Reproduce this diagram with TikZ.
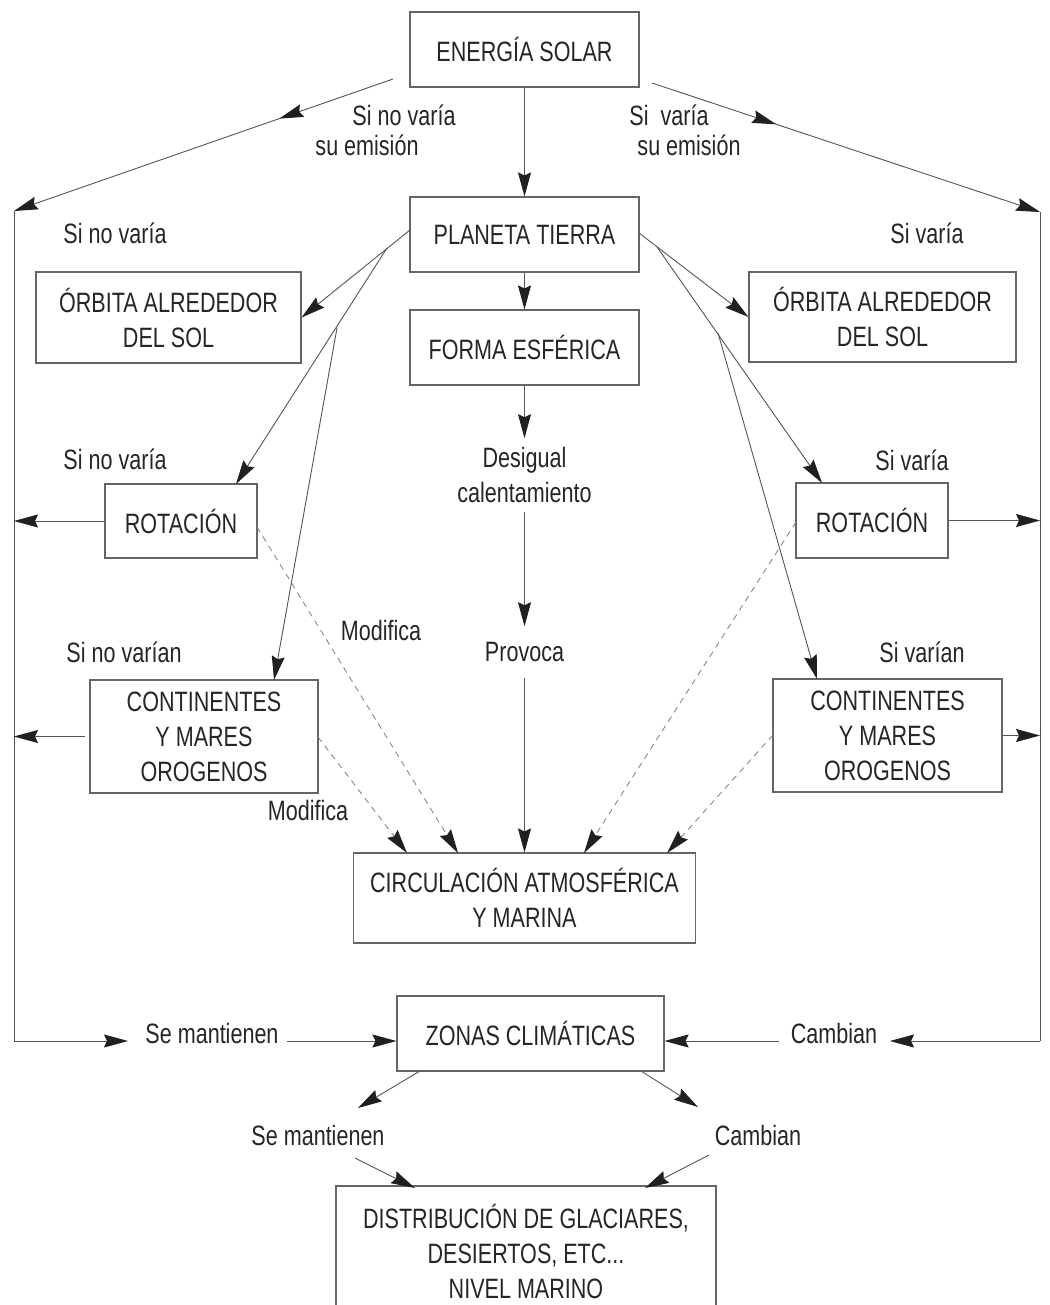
\documentclass[tikz,border=0pt]{standalone}
\usepackage{fontspec}
\setmainfont{Liberation Sans}[FakeStretch=0.77]
\usetikzlibrary{arrows.meta,decorations.markings}
\definecolor{txt}{HTML}{262626}
\definecolor{linec}{HTML}{555555}
\definecolor{boxc}{HTML}{666666}
\definecolor{tipc}{HTML}{202020}
\definecolor{dashc}{HTML}{888888}
\newcommand\dfont{\fontsize{28}{35}\selectfont}
\begin{document}
\begin{tikzpicture}[x=1pt,y=-1pt,
  every node/.style={font=\dfont, text=txt},
  box/.style={draw=boxc, line width=1.1pt, inner sep=0pt, align=center},
  lbl/.style={inner sep=0pt, outer sep=0pt, align=center},
  con/.style={draw=linec, line width=0.9pt, -{Stealth[length=24pt,width=13pt,inset=3pt,color=tipc]}},
  ln/.style={draw=linec, line width=0.9pt},
  dsh/.style={draw=dashc, line width=0.9pt, dash pattern=on 6pt off 5pt, -{Stealth[length=24pt,width=13pt,inset=3pt,color=tipc]}},
  midarr/.style={postaction={decorate}, decoration={markings, mark=at position #1 with {\arrow{Stealth[length=24pt,width=13pt,inset=3pt,color=tipc]}}}}
]
\fill[white] (0,0) rectangle (1049,1305);
\begin{scope}
\clip (0,0) rectangle (1049,1305);

% boxes
\node[box, minimum width=229, minimum height=75] (en) at (524.5,49.5) {ENERGÍA SOLAR};
\node[box, minimum width=229, minimum height=75] (pt) at (524.5,234.5) {PLANETA TIERRA};
\node[box, minimum width=229, minimum height=75] (fe) at (524.5,347.5) {FORMA ESFÉRICA};
\node[box, minimum width=265, minimum height=91] (ol) at (168.5,317.5) {ÓRBITA ALREDEDOR\\DEL SOL};
\node[box, minimum width=267, minimum height=90] (or) at (882.5,317) {ÓRBITA ALREDEDOR\\DEL SOL};
\node[box, minimum width=152, minimum height=74] (rl) at (181,521) {ROTACIÓN};
\node[box, minimum width=152, minimum height=75] (rr) at (872,520.5) {ROTACIÓN};
\node[box, minimum width=228, minimum height=113] (cl) at (204,736.5) {CONTINENTES\\Y MARES\\OROGENOS};
\node[box, minimum width=229, minimum height=113] (cr) at (887.5,735.5) {CONTINENTES\\Y MARES\\OROGENOS};
\node[box, minimum width=342, minimum height=90] (ci) at (524.5,898) {CIRCULACIÓN ATMOSFÉRICA\\Y MARINA};
\node[box, minimum width=267, minimum height=75] (zc) at (530.5,1033.5) {ZONAS CLIMÁTICAS};
\node[box, minimum width=380, minimum height=130] (di) at (526,1251) {DISTRIBUCIÓN DE GLACIARES,\\DESIERTOS, ETC...\\NIVEL MARINO};

% labels
\node[lbl] (s1a) at (404,115) {Si no varía};
\node[lbl] (s1b) at (367,145) {su emisión};
\node[lbl] (s2a) at (669,115) {Si~~varía};
\node[lbl] (s2b) at (689,145) {su emisión};
\node[lbl] (n1) at (115,233) {Si no varía};
\node[lbl] (v1) at (927,233) {Si varía};
\node[lbl] (n2) at (115,459) {Si no varía};
\node[lbl] (v2) at (912,460) {Si varía};
\node[lbl, inner ysep=9pt] (dc) at (524.5,475) {Desigual\\calentamiento};
\node[lbl, inner ysep=16pt] (pv) at (524.5,652) {Provoca};
\node[lbl] (m1) at (381,630) {Modifica};
\node[lbl] (m2) at (308,810) {Modifica};
\node[lbl] (n3) at (124,652) {Si no varían};
\node[lbl] (v3) at (922,652) {Si varían};
\node[lbl] (sm1) at (212,1033) {Se mantienen};
\node[lbl] (ca1) at (834,1033) {Cambian};
\node[lbl] (sm2) at (318,1135) {Se mantienen};
\node[lbl] (ca2) at (758,1135) {Cambian};

% coordinates
\coordinate (e1) at (393,79);
\coordinate (e2) at (652,83);
\coordinate (L1) at (14,211);
\coordinate (L2) at (14,1041);
\coordinate (R1) at (1040,212);
\coordinate (R2) at (1040,1041);
\coordinate (pA) at (410,230);
\coordinate (bL1) at (387,248);
\coordinate (bL2) at (337,328);
\coordinate (pB) at (639,233);
\coordinate (bR1) at (657,247);
\coordinate (bR2) at (718,333);
\coordinate (tRl) at (236,484);
\coordinate (tCl) at (274,680);
\coordinate (tRr) at (822,483);
\coordinate (tCr) at (817,679);
\coordinate (a1) at (128,1041);
\coordinate (a2s) at (287,1041);
\coordinate (a3) at (890,1041);
\coordinate (a4s) at (779,1041);
\coordinate (z1) at (420,1071);
\coordinate (z1t) at (358,1108);
\coordinate (z2) at (641,1071);
\coordinate (z2t) at (698,1107);
\coordinate (d1s) at (355,1158);
\coordinate (d1t) at (415,1188);
\coordinate (d2s) at (709,1155);
\coordinate (d2t) at (645,1188);
\coordinate (dr1) at (257,527);
\coordinate (dr1t) at (458,853);
\coordinate (dc1) at (318,737);
\coordinate (dc1t) at (407,853);
\coordinate (dr2) at (796,522);
\coordinate (dr2t) at (584,853);
\coordinate (dc2) at (773,735);
\coordinate (dc2t) at (667,853);

% solar branches
\draw[con, midarr=0.3] (e1) -- (L1);
\draw[con, midarr=0.32] (e2) -- (R1);
\draw[ln] (L1) -- (L2);
\draw[ln] (R1) -- (R2);
\draw[con] (L2) -- (a1);
\draw[con] (a2s) -- (L2 -| zc.west);
\draw[con] (R2) -- (a3);
\draw[con] (a4s) -- (R2 -| zc.east);

% central column
\draw[con] (en) -- (pt);
\draw[con] (pt) -- (fe);
\draw[con] (fe) -- (dc);
\draw[con] (dc) -- (pv);
\draw[con] (pv) -- (ci);

% planet branches
\draw[con] (pA) -- (ol.east);
\draw[con] (bL1) -- (tRl);
\draw[con] (bL2) -- (tCl);
\draw[con] (pB) -- (or.west);
\draw[con] (bR1) -- (tRr);
\draw[con] (bR2) -- (tCr);

% side arrows
\draw[con] (rl.west) -- (rl.west -| L1);
\draw[con, shorten <=4pt] (cl.west) -- (cl.west -| L1);
\draw[con] (rr.east) -- (rr.east -| R1);
\draw[con] (cr.east) -- (cr.east -| R1);

% dashed modifica
\draw[dsh] (dr1) -- (dr1t);
\draw[dsh] (dc1) -- (dc1t);
\draw[dsh] (dr2) -- (dr2t);
\draw[dsh] (dc2) -- (dc2t);

% bottom
\draw[con] (z1) -- (z1t);
\draw[con] (z2) -- (z2t);
\draw[con] (d1s) -- (d1t);
\draw[con] (d2s) -- (d2t);
\end{scope}
\pgfresetboundingbox
\useasboundingbox (0,0) rectangle (1049,1305);
\end{tikzpicture}
\end{document}
